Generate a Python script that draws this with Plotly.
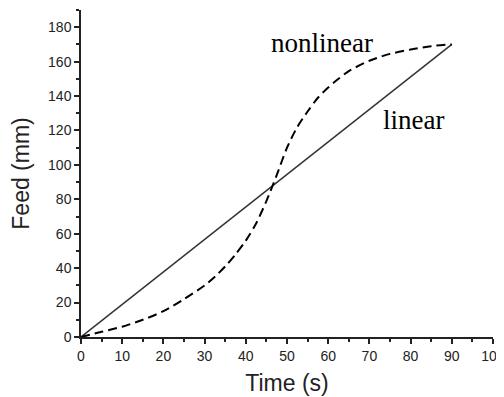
import plotly.graph_objects as go

# Data
time_linear = [0, 90]
feed_linear = [0, 170]

time_nonlinear = [0, 5, 10, 15, 20, 25, 30, 32.5, 35, 37.5, 40, 42.5, 45, 47.5, 50, 52.5, 55, 57.5, 60, 62.5, 65, 70, 75, 80, 85, 90]
feed_nonlinear = [0, 3, 6, 10, 15, 22, 30, 35, 41, 48, 56, 66, 79, 94, 110, 122, 131, 139, 145, 150, 154.5, 160.5, 164.5, 167, 169, 170]

labels = ["nonlinear", "linear"]
label_x = [58.5, 80.8]
label_y = [170.7, 126.1]

fig = go.Figure()
fig.add_trace(go.Scatter(x=time_linear, y=feed_linear, mode="lines",
                         line=dict(color="#333333", width=1.5), showlegend=False))
fig.add_trace(go.Scatter(x=time_nonlinear, y=feed_nonlinear, mode="lines",
                         line=dict(color="black", width=2, dash="9px,5px", shape="spline", smoothing=0.8),
                         showlegend=False))

for t, x, y in zip(labels, label_x, label_y):
    fig.add_annotation(x=x, y=y, text=t, showarrow=False, xanchor="center", yanchor="middle",
                       font=dict(family="Liberation Serif", size=27, color="black"))

axis_common = dict(showline=True, linecolor="#222222", linewidth=1.5, ticks="outside",
                   tickcolor="#222222", tickwidth=1.5, ticklen=5, showgrid=False, zeroline=False,
                   tickfont=dict(family="Liberation Sans", size=14, color="#222222"),
                   mirror=False, automargin=False, ticklabeloverflow="allow")

fig.update_xaxes(range=[0, 100], dtick=10, tick0=0,
                 minor=dict(dtick=5, ticks="outside", ticklen=3, tickcolor="#222222", tickwidth=1.5),
                 title=dict(text="Time (s)", font=dict(family="Liberation Sans", size=23, color="#222222"),
                            standoff=12),
                 **axis_common)
fig.update_yaxes(range=[0, 190], dtick=20, tick0=0,
                 minor=dict(dtick=10, ticks="outside", ticklen=3, tickcolor="#222222", tickwidth=1.5),
                 title=dict(text="Feed (mm)", font=dict(family="Liberation Sans", size=23, color="#222222"),
                            standoff=14),
                 **axis_common)

fig.update_layout(width=504, height=389, margin=dict(l=73, r=19, t=2, b=60),
                  plot_bgcolor="white", paper_bgcolor="white")

fig.write_html("out.html")
